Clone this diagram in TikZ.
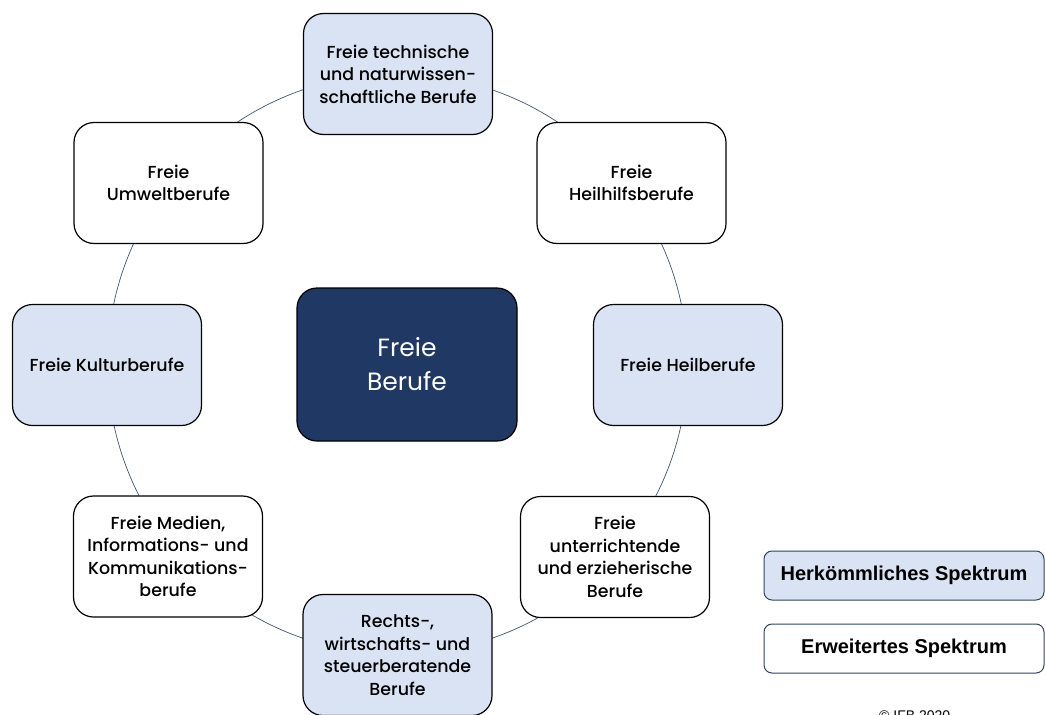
\documentclass[tikz,border=0pt]{standalone}
\usepackage{fontspec}
\setmainfont{Poppins}[UprightFont=* Medium]
\newfontfamily\centerfont{Poppins}
\newfontfamily\legfont{Liberation Sans}
\definecolor{lblue}{HTML}{DAE3F3}
\definecolor{navy}{HTML}{1F3864}
\definecolor{ringcol}{HTML}{44546A}
\definecolor{legborder}{HTML}{2F4468}
\begin{document}
\begin{tikzpicture}[x=1pt,y=-1pt,
  box/.style={draw=black, line width=1.2pt, rounded corners=20pt,
    minimum width=189pt, minimum height=121pt, align=center,
    font=\fontsize{17.4}{22.5}\selectfont, inner sep=2pt},
  trad/.style={box, fill=lblue},
  ext/.style={box, fill=white},
  legbox/.style={draw=legborder, line width=1pt, rounded corners=8pt,
    minimum width=280pt, minimum height=49pt, align=center,
    font=\legfont\bfseries\fontsize{20}{22}\selectfont}
]
\useasboundingbox (0,0) rectangle (1045,715);
\coordinate (ringc) at (397.5,364);
\draw[ringcol, line width=0.7pt] (ringc) circle (290pt);

\node[trad] (tech) at (398,74) {Freie technische\\und naturwissen-\\schaftliche Berufe};
\node[ext] (heilhilf) at (631.5,183) {Freie\\Heilhilfsberufe};
\node[trad] (heil) at (688,365) {Freie Heilberufe};
\node[ext] (unter) at (615,557) {Freie\\unterrichtende\\und erzieherische\\Berufe};
\node[trad] (recht) at (397.5,655) {Rechts-,\\wirtschafts- und\\steuerberatende\\Berufe};
\node[ext] (medien) at (168,556.5) {Freie Medien,\\Informations- und\\Kommunikations-\\berufe};
\node[trad] (kultur) at (107,365) {Freie Kulturberufe};
\node[ext] (umwelt) at (168.5,183) {Freie\\Umweltberufe};

\node[draw=black, line width=1.2pt, fill=navy, rounded corners=20pt,
  minimum width=220pt, minimum height=153pt, align=center, text=white,
  font=\centerfont\fontsize{25}{34}\selectfont] (center) at (407,364.5) {Freie\\Berufe};

\node[legbox, fill=lblue] (leg1) at (904,575.5) {Herkömmliches Spektrum};
\node[legbox, fill=white] (leg2) at (904,648.5) {Erweitertes Spektrum};

\node[anchor=north west, inner sep=0pt, font=\legfont\fontsize{14}{16}\selectfont] (copy) at (879,710.5) {© IFB 2020};
\end{tikzpicture}
\end{document}
